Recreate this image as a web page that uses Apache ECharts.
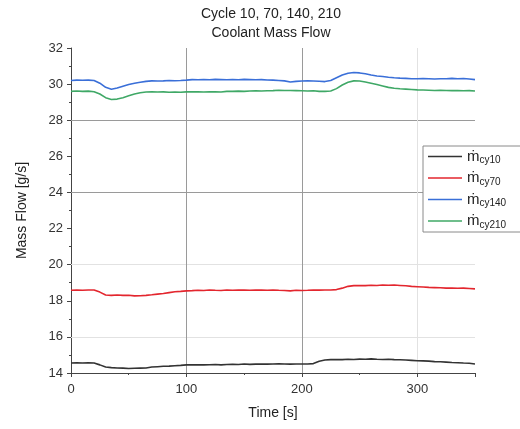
<!DOCTYPE html>
<html>
<head>
<meta charset="utf-8">
<script src="https://cdn.jsdelivr.net/npm/echarts@6/dist/echarts.min.js"></script>
<style>html,body{margin:0;padding:0;background:#fff;}#c{width:520px;height:429px;}</style>
</head>
<body>
<div id="c"></div>
<script>
const times = [];
for (let t = 0; t <= 350; t += 5) times.push(t);

const cy10 = [14.55,14.56,14.55,14.57,14.55,14.45,14.33,14.3,14.28,14.27,14.25,14.26,14.27,14.28,14.33,14.35,14.37,14.38,14.4,14.42,14.45,14.45,14.46,14.45,14.46,14.47,14.45,14.47,14.48,14.47,14.5,14.48,14.49,14.5,14.49,14.5,14.51,14.5,14.49,14.5,14.5,14.5,14.52,14.65,14.72,14.74,14.75,14.74,14.76,14.75,14.77,14.76,14.78,14.76,14.75,14.76,14.74,14.73,14.72,14.7,14.68,14.67,14.66,14.63,14.62,14.6,14.58,14.57,14.55,14.54,14.5];
const cy70 = [18.58,18.6,18.58,18.6,18.6,18.48,18.32,18.3,18.32,18.3,18.31,18.27,18.28,18.3,18.33,18.37,18.4,18.45,18.5,18.52,18.55,18.56,18.58,18.57,18.6,18.58,18.57,18.6,18.58,18.6,18.59,18.58,18.6,18.59,18.58,18.6,18.58,18.57,18.55,18.58,18.57,18.58,18.6,18.59,18.6,18.6,18.62,18.7,18.8,18.84,18.85,18.84,18.86,18.85,18.87,18.86,18.87,18.85,18.83,18.8,18.78,18.76,18.74,18.73,18.72,18.7,18.71,18.69,18.7,18.68,18.66];
const cy140 = [30.2,30.22,30.21,30.22,30.2,30.05,29.82,29.72,29.78,29.88,29.98,30.05,30.1,30.15,30.18,30.17,30.18,30.2,30.19,30.2,30.22,30.25,30.24,30.25,30.24,30.26,30.25,30.24,30.25,30.24,30.26,30.25,30.24,30.25,30.23,30.22,30.2,30.18,30.12,30.15,30.17,30.18,30.17,30.16,30.14,30.2,30.35,30.5,30.6,30.64,30.62,30.57,30.5,30.45,30.42,30.38,30.35,30.33,30.32,30.3,30.3,30.31,30.3,30.28,30.3,30.3,30.32,30.3,30.31,30.28,30.25];
const cy210 = [29.6,29.62,29.6,29.61,29.58,29.45,29.25,29.15,29.17,29.25,29.35,29.45,29.52,29.56,29.57,29.56,29.57,29.55,29.56,29.55,29.57,29.58,29.57,29.56,29.58,29.57,29.56,29.6,29.6,29.61,29.6,29.62,29.63,29.62,29.63,29.64,29.66,29.65,29.65,29.64,29.63,29.62,29.63,29.6,29.6,29.62,29.75,29.95,30.1,30.18,30.17,30.12,30.05,29.98,29.9,29.82,29.77,29.74,29.72,29.7,29.68,29.67,29.66,29.65,29.66,29.65,29.64,29.65,29.63,29.64,29.62];

const seriesNames = ['cy10', 'cy70', 'cy140', 'cy210'];
const seriesColors = ['#333333', '#e3262e', '#3a6fd8', '#3fa866'];
const seriesValues = [cy10, cy70, cy140, cy210];

const yGridDark = [28, 24];
const yGridLight = [20, 16];
const xGridDark = [100, 200];
const xGridLight = [300];

const titleLines = ['Cycle 10, 70, 140, 210', 'Coolant Mass Flow'];

const font = 'Liberation Sans, Arial, sans-serif';
const chart = echarts.init(document.getElementById('c'), null, {renderer: 'canvas'});

const markData = [];
yGridDark.forEach(v => markData.push({yAxis: v, lineStyle: {color: '#9a9a9a'}}));
yGridLight.forEach(v => markData.push({yAxis: v, lineStyle: {color: '#e2e2e2'}}));
xGridDark.forEach(v => markData.push({xAxis: v, lineStyle: {color: '#9a9a9a'}}));
xGridLight.forEach(v => markData.push({xAxis: v, lineStyle: {color: '#e2e2e2'}}));

const series = seriesNames.map((n, k) => ({
  name: n,
  type: 'line',
  showSymbol: false,
  symbol: 'none',
  z: 3,
  data: times.map((t, i) => [t, seriesValues[k][i]]),
  lineStyle: {color: seriesColors[k], width: 1.6},
  itemStyle: {color: seriesColors[k]},
  emphasis: {disabled: true}
}));
series[0].markLine = {
  silent: true, symbol: 'none', z: 1,
  label: {show: false},
  lineStyle: {type: 'solid', width: 1},
  data: markData,
  animation: false
};

chart.setOption({
  animation: false,
  backgroundColor: '#fff',
  title: {
    text: titleLines.join('\n'),
    left: 266, top: 0, textAlign: 'center',
    textStyle: {fontFamily: font, fontSize: 14, fontWeight: 'normal', color: '#222', lineHeight: 19}
  },
  grid: {left: 71, right: 45, top: 48, bottom: 56},
  legend: {
    orient: 'vertical',
    left: 423, top: 146,
    backgroundColor: '#fff',
    borderColor: '#8a8a8a', borderWidth: 1,
    padding: [3, 40, 2, 5],
    itemGap: 5,
    itemWidth: 34, itemHeight: 1.6,
    icon: 'rect',
    data: seriesNames,
    formatter: n => '{m|ṁ}{s|' + n + '}',
    textStyle: {
      fontFamily: font, color: '#222',
      rich: {
        m: {fontSize: 15, fontFamily: font, color: '#222', lineHeight: 18},
        s: {fontSize: 10, fontFamily: font, color: '#222', verticalAlign: 'bottom', padding: [7, 0, 0, 0]}
      }
    }
  },
  xAxis: {
    type: 'value', min: 0, max: 350, interval: 100,
    name: 'Time [s]', nameLocation: 'middle', nameGap: 33,
    nameTextStyle: {fontFamily: font, fontSize: 14, color: '#222'},
    axisLine: {show: true, lineStyle: {color: '#444', width: 1}},
    axisTick: {show: true, length: 4, lineStyle: {color: '#444'}},
    minorTick: {show: true, splitNumber: 2, length: 2, lineStyle: {color: '#444'}},
    axisLabel: {fontFamily: font, fontSize: 13, color: '#333', showMaxLabel: false, margin: 10},
    splitLine: {show: false}
  },
  yAxis: {
    type: 'value', min: 14, max: 32, interval: 2,
    name: 'Mass Flow [g/s]', nameLocation: 'middle', nameGap: 42,
    nameTextStyle: {fontFamily: font, fontSize: 14, color: '#222'},
    axisLine: {show: true, lineStyle: {color: '#444', width: 1}},
    axisTick: {show: true, length: 4, lineStyle: {color: '#444'}},
    minorTick: {show: true, splitNumber: 2, length: 2, lineStyle: {color: '#444'}},
    axisLabel: {fontFamily: font, fontSize: 13, color: '#333', margin: 8},
    splitLine: {show: false}
  },
  series: series
});
</script>
</body>
</html>
